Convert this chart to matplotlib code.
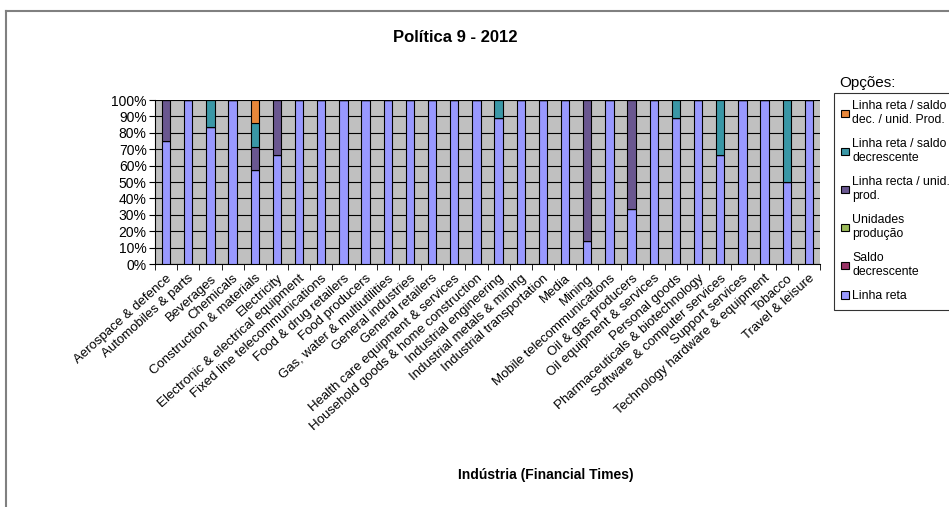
import numpy as np
import matplotlib.pyplot as plt
import matplotlib.transforms as mtransforms
from matplotlib.lines import Line2D

plt.rcParams['font.family'] = ['Liberation Sans', 'DejaVu Sans']

industries = [
    'Aerospace & defence', 'Automobiles & parts', 'Beverages', 'Chemicals',
    'Construction & materials', 'Electricity', 'Electronic & electrical equipment',
    'Fixed line telecommunications', 'Food & drug retailers', 'Food producers',
    'Gas, water & multiutilities', 'General industries', 'General retailers',
    'Health care equipment & services', 'Household goods & home construction',
    'Industrial engineering', 'Industrial metals & mining', 'Industrial transportation',
    'Media', 'Mining', 'Mobile telecommunications', 'Oil & gas producers',
    'Oil equipment & services', 'Personal goods', 'Pharmaceuticals & biotechnology',
    'Software & computer services', 'Support services',
    'Technology hardware & equipment', 'Tobacco', 'Travel & leisure',
]

# shares (%) per option, bottom to top of each stack
linha_reta = [75, 100, 83.3, 100, 57.1, 66.7, 100, 100, 100, 100,
              100, 100, 100, 100, 100, 88.9, 100, 100, 100, 14.3,
              100, 33.3, 100, 88.9, 100, 66.7, 100, 100, 50, 100]
saldo_dec = [0] * 30
unid_prod = [0] * 30
recta_unid = [25, 0, 0, 0, 14.3, 33.3, 0, 0, 0, 0,
              0, 0, 0, 0, 0, 0, 0, 0, 0, 85.7,
              0, 66.7, 0, 0, 0, 0, 0, 0, 0, 0]
reta_saldo = [0, 0, 16.7, 0, 14.3, 0, 0, 0, 0, 0,
              0, 0, 0, 0, 0, 11.1, 0, 0, 0, 0,
              0, 0, 0, 11.1, 0, 33.3, 0, 0, 50, 0]
reta_saldo_unid = [0, 0, 0, 0, 14.3, 0, 0, 0, 0, 0,
                   0, 0, 0, 0, 0, 0, 0, 0, 0, 0,
                   0, 0, 0, 0, 0, 0, 0, 0, 0, 0]

series = [
    ('Linha reta', linha_reta, '#9999FF'),
    ('Saldo\ndecrescente', saldo_dec, '#993366'),
    ('Unidades\nprodução', unid_prod, '#9BBB59'),
    ('Linha recta / unid.\nprod.', recta_unid, '#6A5790'),
    ('Linha reta / saldo\ndecrescente', reta_saldo, '#3A97A6'),
    ('Linha reta / saldo\ndec. / unid. Prod.', reta_saldo_unid, '#E8873A'),
]

fig = plt.figure(figsize=(9.49, 5.07), dpi=100)
ax = fig.add_axes([155 / 949, 1 - 264 / 507, 665 / 949, 164 / 507])
ax.set_facecolor('#C0C0C0')

x = np.arange(len(industries))
bottom = np.zeros(len(industries))
handles = []
for name, vals, col in series:
    vals = np.array(vals, dtype=float)
    b = ax.bar(x, vals, 0.38, bottom=bottom, color=col, edgecolor='black',
               linewidth=0.8, label=name, zorder=3)
    handles.append(b)
    bottom += vals

ax.set_xlim(-0.5, len(industries) - 0.5)
ax.set_ylim(0, 100)
ax.set_yticks(np.arange(0, 101, 10))
ax.set_yticklabels([f'{v}%' for v in range(0, 101, 10)], fontsize=10)
ax.yaxis.grid(True, color='black', linewidth=0.8, zorder=1)
ax.set_xticks(x)
ax.set_xticklabels(industries, rotation=42, ha='right', rotation_mode='anchor',
                   fontsize=9.5)
shift = mtransforms.ScaledTranslation(5 / 100, 0, fig.dpi_scale_trans)
for lab in ax.get_xticklabels():
    lab.set_transform(lab.get_transform() + shift)
ax.set_xticks(np.arange(-0.5, len(industries), 1), minor=True)
ax.tick_params(axis='x', which='major', length=0, pad=6)
ax.tick_params(axis='x', which='minor', length=4, direction='out')
ax.tick_params(axis='y', length=4, direction='out', pad=2)
for s in ['top', 'right']:
    ax.spines[s].set_visible(False)

fig.text(455 / 949, 1 - 37 / 507, 'Política 9 - 2012', ha='center', va='center',
         fontsize=12, fontweight='bold')
fig.text(546 / 949, 1 - 475 / 507, 'Indústria (Financial Times)', ha='center',
         va='center', fontsize=10, fontweight='bold')

leg = fig.legend(handles[::-1], [s[0] for s in series][::-1],
                 loc='upper left', bbox_to_anchor=(834 / 949, 1 - 93 / 507),
                 fontsize=8.8, frameon=True, fancybox=False, edgecolor='black',
                 handlelength=0.6, handleheight=0.6, handletextpad=0.3,
                 labelspacing=1.0, borderpad=0.6, borderaxespad=0)
leg.get_frame().set_linewidth(0.8)
fig.text(839 / 949, 1 - 83 / 507, 'Opções:', ha='left', va='center', fontsize=11)

# outer chart border (top and left edges visible)
fig.add_artist(Line2D([6 / 949, 6 / 949], [0, 1 - 11 / 507],
                      transform=fig.transFigure, color='#808080', linewidth=1.5))
fig.add_artist(Line2D([6 / 949, 1], [1 - 11 / 507, 1 - 11 / 507],
                      transform=fig.transFigure, color='#808080', linewidth=1.5))

fig.savefig('out.png', dpi=100)
